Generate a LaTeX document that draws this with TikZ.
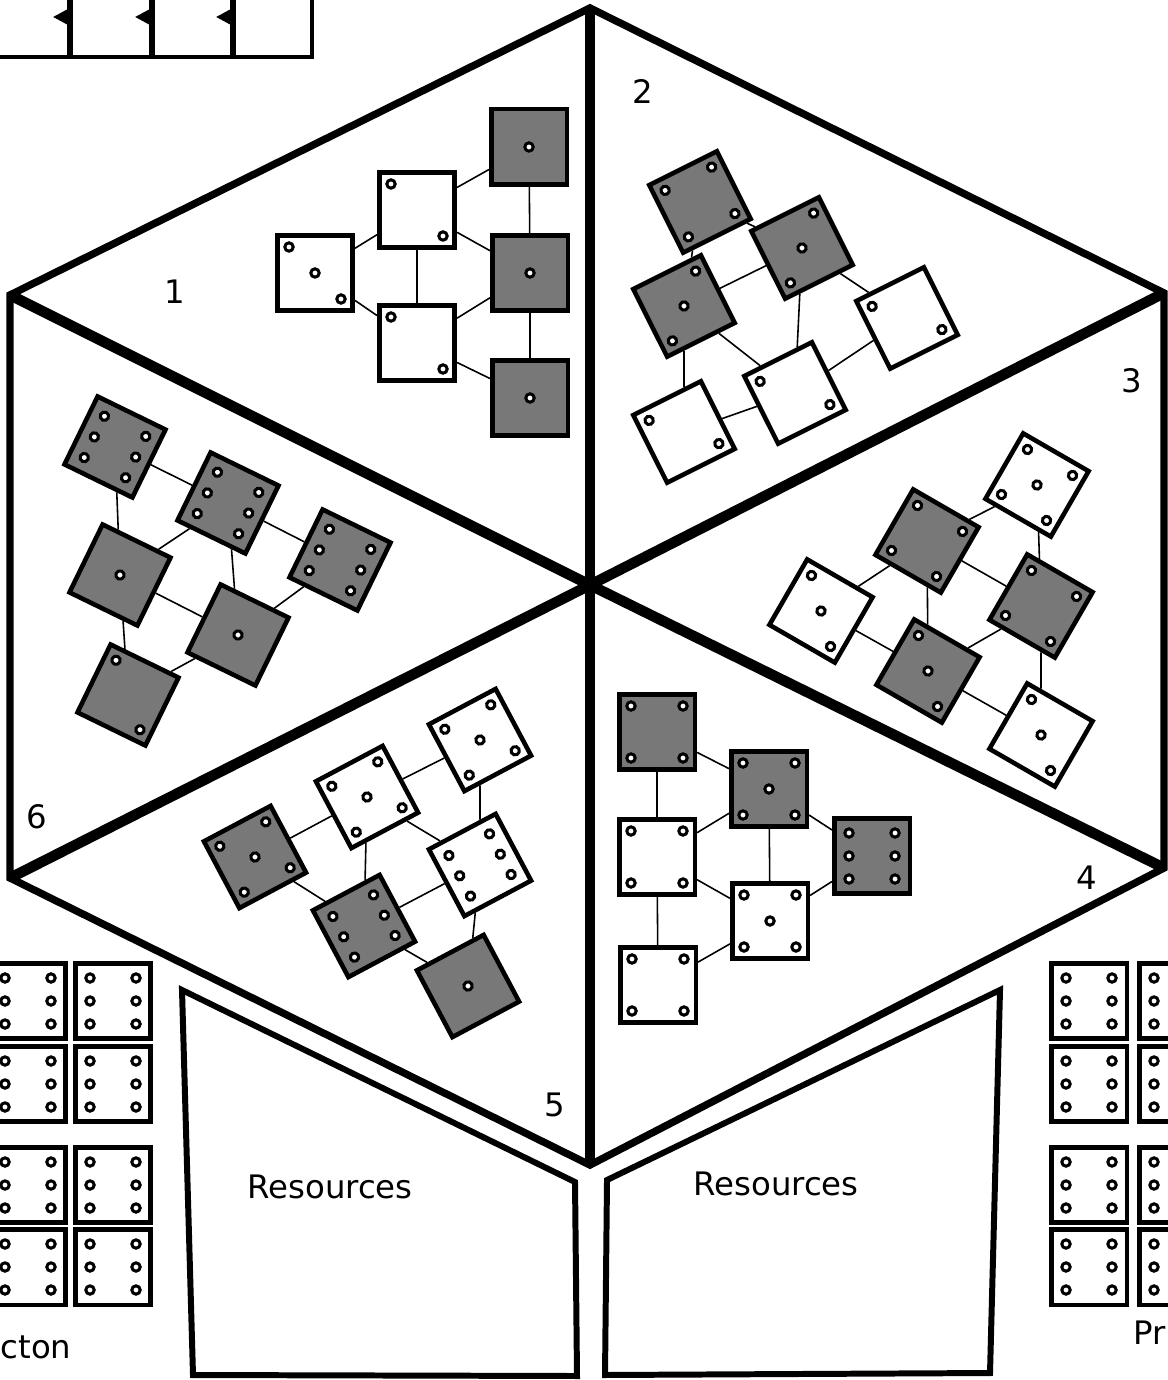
\documentclass[tikz,border=0pt]{standalone}
\usepackage{fontspec}
\setmainfont{DejaVu Sans}
\usepackage{tikz}
\usetikzlibrary{arrows.meta}
\definecolor{diegray}{RGB}{120,120,120}

\newcommand{\placedie}[5]{%
  \node[#4, rotate=#3] (#1) at #2 {};
  \begin{scope}[shift={#2}, rotate=#3]
    \foreach \px/\py in #5 {\draw[pip] (\px,\py) circle (4.2);}
  \end{scope}}
\def\pone{0/0}
\def\ptwo{-26/-26,26/26}
\def\pthree{-26/-26,0/0,26/26}
\def\pthreeb{26/-26,0/0,-26/26}
\def\pfour{-26/-26,26/-26,-26/26,26/26}
\def\pfive{-26/-26,26/-26,0/0,-26/26,26/26}
\def\psix{-23/-23,-23/0,-23/23,23/-23,23/0,23/23}

\begin{document}
\begin{tikzpicture}[x=0.01cm, y=-0.01cm,
  die/.style={rectangle, draw=black, line width=1.3pt, minimum size=0.755cm, inner sep=0pt},
  darkdie/.style={die, fill=diegray},
  lightdie/.style={die, fill=white},
  pip/.style={draw=black, line width=0.85pt, fill=white},
  link/.style={line width=0.45pt},
  rim/.style={line width=2.1pt, line join=miter},
  spoke/.style={line width=3pt},
  tray/.style={line width=1.7pt, line join=miter},
  tag/.style={font=\fontsize{9.2}{11}\selectfont, inner sep=0pt}
]
\useasboundingbox (0,0) rectangle (1168,1380);
\clip (0,0) rectangle (1168,1380);
\fill[white] (0,0) rectangle (1168,1380);

\draw[line width=1pt] (-10,57) -- (312,57) -- (312,-10);
\foreach \x in {70,152,233} {
  \draw[line width=1.7pt] (\x,-10) -- (\x,57);
  \draw[line width=0.9pt, -{Triangle[length=4pt, width=4pt]}] (\x,17) -- (\x-17,17);
}

\coordinate (c) at (590,585);
\coordinate (top) at (590,8);
\coordinate (ur) at (1164,293);
\coordinate (lr) at (1164,868);
\coordinate (bot) at (590,1165);
\coordinate (ll) at (10,878);
\coordinate (ul) at (10,295);
\draw[rim] (top) -- (ur) -- (lr) -- (bot) -- (ll) -- (ul) -- cycle;
\draw[spoke] (top) -- (bot);
\draw[spoke] (c) -- (ul) (c) -- (ur) (c) -- (ll) (c) -- (lr);

\node[tag] (n1) at (175,292) {1};
\node[tag] (n2) at (643,92) {2};
\node[tag] (n3) at (1132,381) {3};
\node[tag] (n4) at (1087,878) {4};
\node[tag] (n5) at (555,1105) {5};
\node[tag] (n6) at (37,817) {6};

\placedie{a1}{(315,273)}{0}{lightdie}{\pthree}
\placedie{a2}{(417,210)}{0}{lightdie}{\ptwo}
\placedie{a3}{(417,343)}{0}{lightdie}{\ptwo}
\placedie{a4}{(529,147)}{0}{darkdie}{\pone}
\placedie{a5}{(530,273)}{0}{darkdie}{\pone}
\placedie{a6}{(530,398)}{0}{darkdie}{\pone}
\draw[link] (a1) -- (a2) (a1) -- (a3) (a2) -- (a3) (a2) -- (a4) (a2) -- (a5)
  (a3) -- (a5) (a3) -- (a6) (a4) -- (a5) (a5) -- (a6);

\placedie{b1}{(700,202)}{26.6}{darkdie}{\pfour}
\placedie{b2}{(802,248)}{26.6}{darkdie}{\pthreeb}
\placedie{b3}{(684,306)}{26.6}{darkdie}{\pthreeb}
\placedie{b4}{(907,318)}{26.6}{lightdie}{\ptwo}
\placedie{b5}{(795,393)}{26.6}{lightdie}{\ptwo}
\placedie{b6}{(684,432)}{26.6}{lightdie}{\ptwo}
\draw[link] (b1) -- (b3) (b1) -- (b2) (b3) -- (b2) (b2) -- (b4) (b2) -- (b5)
  (b3) -- (b5) (b3) -- (b6) (b6) -- (b5) (b5) -- (b4);

\placedie{c1}{(927,541)}{-30}{darkdie}{\pfour}
\placedie{c2}{(1037,485)}{-30}{lightdie}{\pfive}
\placedie{c3}{(821,611)}{-30}{lightdie}{\pthree}
\placedie{c4}{(1041,606)}{-30}{darkdie}{\pfour}
\placedie{c5}{(928,671)}{-30}{darkdie}{\pthree}
\placedie{c6}{(1041,735)}{-30}{lightdie}{\pthree}
\draw[link] (c1) -- (c2) (c1) -- (c3) (c1) -- (c5) (c1) -- (c4) (c2) -- (c4)
  (c3) -- (c5) (c5) -- (c4) (c5) -- (c6) (c4) -- (c6);

\placedie{d1}{(657,732)}{0}{darkdie}{\pfour}
\placedie{d2}{(769,789)}{0}{darkdie}{\pfive}
\placedie{d3}{(872,856)}{0}{darkdie}{\psix}
\placedie{d4}{(657,857)}{0}{lightdie}{\pfour}
\placedie{d5}{(770,921)}{0}{lightdie}{\pfive}
\placedie{d6}{(658,985)}{0}{lightdie}{\pfour}
\draw[link] (d1) -- (d4) (d1) -- (d2) (d2) -- (d4) (d2) -- (d5) (d2) -- (d3)
  (d4) -- (d5) (d5) -- (d3) (d4) -- (d6) (d6) -- (d5);

\placedie{e1}{(480,740)}{28}{lightdie}{\pfive}
\placedie{e2}{(367,797)}{28}{lightdie}{\pfive}
\placedie{e3}{(255,857)}{28}{darkdie}{\pfive}
\placedie{e4}{(480,865)}{28}{lightdie}{\psix}
\placedie{e5}{(364,926)}{28}{darkdie}{\psix}
\placedie{e6}{(468,986)}{28}{darkdie}{\pone}
\draw[link] (e3) -- (e2) (e2) -- (e1) (e2) -- (e5) (e1) -- (e4) (e2) -- (e4)
  (e3) -- (e5) (e5) -- (e4) (e5) -- (e6) (e4) -- (e6);

\placedie{f1}{(115,447)}{-26}{darkdie}{\psix}
\placedie{f2}{(228,503)}{-26}{darkdie}{\psix}
\placedie{f3}{(340,560)}{-26}{darkdie}{\psix}
\placedie{f4}{(120,575)}{-26}{darkdie}{\pone}
\placedie{f5}{(238,635)}{-26}{darkdie}{\pone}
\placedie{f6}{(128,695)}{-26}{darkdie}{\ptwo}
\draw[link] (f1) -- (f2) (f1) -- (f4) (f2) -- (f4) (f2) -- (f3) (f2) -- (f5)
  (f4) -- (f5) (f3) -- (f5) (f4) -- (f6) (f5) -- (f6);

\draw[tray] (182,990) -- (575,1182) -- (577,1376) -- (193,1375) -- cycle;
\node[tag] (res1) at (330,1187) {Resources};
\draw[tray] (607,1180) -- (1000,990) -- (990,1373) -- (605,1375) -- cycle;
\node[tag] (res2) at (776,1184) {Resources};

\placedie{pl1}{(28,1001)}{0}{lightdie}{\psix}
\placedie{pl2}{(113,1001)}{0}{lightdie}{\psix}
\placedie{pl3}{(28,1084)}{0}{lightdie}{\psix}
\placedie{pl4}{(113,1084)}{0}{lightdie}{\psix}
\placedie{pl5}{(28,1185)}{0}{lightdie}{\psix}
\placedie{pl6}{(113,1185)}{0}{lightdie}{\psix}
\placedie{pl7}{(28,1267)}{0}{lightdie}{\psix}
\placedie{pl8}{(113,1267)}{0}{lightdie}{\psix}
\node[tag, anchor=west] (cton) at (0,1347) {cton};

\placedie{pr1}{(1089,1001)}{0}{lightdie}{\psix}
\placedie{pr2}{(1177,1001)}{0}{lightdie}{\psix}
\placedie{pr3}{(1089,1084)}{0}{lightdie}{\psix}
\placedie{pr4}{(1177,1084)}{0}{lightdie}{\psix}
\placedie{pr5}{(1089,1185)}{0}{lightdie}{\psix}
\placedie{pr6}{(1177,1185)}{0}{lightdie}{\psix}
\placedie{pr7}{(1089,1267)}{0}{lightdie}{\psix}
\placedie{pr8}{(1177,1267)}{0}{lightdie}{\psix}
\node[tag, anchor=east] (pr) at (1166,1333) {Pr};
\end{tikzpicture}
\end{document}
